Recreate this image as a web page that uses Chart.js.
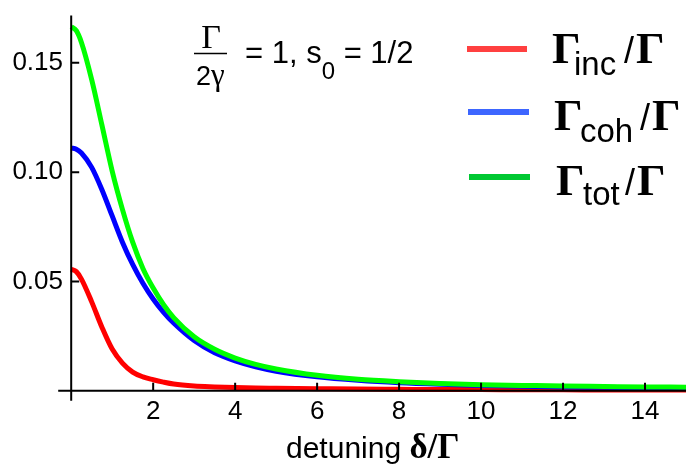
<!DOCTYPE html>
<html>
<head>
<meta charset="utf-8">
<script src="https://cdn.jsdelivr.net/npm/chart.js@4"></script>
<style>
  html, body { margin: 0; padding: 0; background: #fff; }
  canvas { display: block; }
</style>
</head>
<body>
<canvas id="c" width="686" height="470" style="width:686px;height:470px"></canvas>
<script>
// detuning δ/Γ sample points
const detuning = [0, 0.125, 0.25, 0.5, 0.75, 1, 1.25, 1.5, 1.75, 2, 2.25, 2.5, 3, 3.5, 4, 4.5, 5, 6, 7, 8, 9, 10, 11, 12, 13, 14, 15];
// scattering rates in units of Γ
const gammaInc = [0.0556, 0.0545, 0.0511, 0.0407, 0.0291, 0.0191, 0.0127, 0.0086, 0.0064, 0.0051, 0.0040, 0.0031, 0.0022, 0.0018, 0.0015, 0.0013, 0.0012, 0.0010, 0.0008, 0.0007, 0.0006, 0.0006, 0.0005, 0.0005, 0.0004, 0.0004, 0.0004];
const gammaCoh = [0.1111, 0.1105, 0.1088, 0.1022, 0.0920, 0.0800, 0.0680, 0.0578, 0.0492, 0.0420, 0.0360, 0.0310, 0.0230, 0.0174, 0.0137, 0.0110, 0.0090, 0.0064, 0.0048, 0.0037, 0.0030, 0.0025, 0.0021, 0.0018, 0.0016, 0.0014, 0.0013];
const gammaTot = [0.1665, 0.1647, 0.1593, 0.1423, 0.1215, 0.1005, 0.0830, 0.0680, 0.0560, 0.0470, 0.0395, 0.0335, 0.0247, 0.0190, 0.0150, 0.0121, 0.0100, 0.0071, 0.0053, 0.0042, 0.0034, 0.0028, 0.0025, 0.0022, 0.0020, 0.0018, 0.0017];

const xTickValues = [2, 4, 6, 8, 10, 12, 14];
const yTickValues = [0.05, 0.10, 0.15];
const yTickLabels = ['0.05', '0.10', '0.15'];

const seriesSubscripts = ['inc', 'coh', 'tot'];
const lineColors = ['#ff0000', '#0000ff', '#00ff00'];
const legendColors = ['#ff4040', '#3d66ff', '#00c832'];

const SANS = "'Liberation Sans', Arial, Helvetica, sans-serif";
const SERIF = "'Liberation Serif', 'Times New Roman', serif";

const toPoints = ys => detuning.map((d, i) => ({ x: d, y: ys[i] }));

// Mathematica-style axes crossing at the origin, tick marks pointing inward
const originAxes = {
  id: 'originAxes',
  afterDatasetsDraw(chart) {
    const { ctx, chartArea } = chart;
    const xs = chart.scales.x, ys = chart.scales.y;
    const x0 = xs.getPixelForValue(0), y0 = ys.getPixelForValue(0);
    ctx.save();
    ctx.strokeStyle = '#000';
    ctx.lineWidth = 2;
    ctx.beginPath();
    ctx.moveTo(x0 - 13, y0);
    ctx.lineTo(chartArea.right, y0);
    ctx.moveTo(x0, chartArea.top);
    ctx.lineTo(x0, y0 + 10);
    xTickValues.forEach(v => {
      const p = xs.getPixelForValue(v);
      ctx.moveTo(p, y0);
      ctx.lineTo(p, y0 - 8);
    });
    yTickValues.forEach(v => {
      const p = ys.getPixelForValue(v);
      ctx.moveTo(x0, p);
      ctx.lineTo(x0 + 8, p);
    });
    ctx.stroke();
    ctx.restore();
  }
};

// Axis title, parameter note and legend with Greek symbols and subscripts
const annotations = {
  id: 'annotations',
  afterDraw(chart) {
    const ctx = chart.ctx;
    ctx.save();
    ctx.fillStyle = '#000';
    ctx.textBaseline = 'alphabetic';
    ctx.textAlign = 'left';

    // x-axis title
    ctx.font = `30px ${SANS}`;
    const t1 = 'detuning ';
    ctx.fillText(t1, 286, 458);
    const tx = 286 + ctx.measureText(t1).width;
    ctx.font = `bold 35px ${SERIF}`;
    ctx.fillText('δ/Γ', tx, 458);

    // parameter note: Γ/2γ = 1, s0 = 1/2
    ctx.textAlign = 'center';
    ctx.font = `34px ${SERIF}`;
    ctx.fillText('Γ', 211, 48);
    ctx.lineWidth = 1.5;
    ctx.strokeStyle = '#000';
    ctx.beginPath();
    ctx.moveTo(194, 53.5);
    ctx.lineTo(227, 53.5);
    ctx.stroke();
    ctx.textAlign = 'left';
    ctx.font = `27px ${SANS}`;
    ctx.fillText('2', 196, 85);
    ctx.font = `31px ${SERIF}`;
    ctx.fillText('γ', 211, 85);
    ctx.font = `31px ${SANS}`;
    const p1 = '= 1, s';
    ctx.fillText(p1, 245, 63);
    let px = 245 + ctx.measureText(p1).width;
    ctx.font = `24px ${SANS}`;
    ctx.fillText('0', px, 79);
    px += ctx.measureText('0').width;
    ctx.font = `31px ${SANS}`;
    ctx.fillText(' = 1/2', px, 63);

    // legend
    const rows = [
      { y: 49, x1: 467, x2: 527, base: 63, sub: 75, gx: 552, sx: 574, slx: 624, g2x: 636 },
      { y: 112, x1: 468, x2: 529, base: 130, sub: 142, gx: 554, sx: 580, slx: 640, g2x: 652 },
      { y: 177, x1: 469, x2: 530, base: 195, sub: 205, gx: 556, sx: 583, slx: 625, g2x: 637 }
    ];
    rows.forEach((r, i) => {
      ctx.strokeStyle = legendColors[i];
      ctx.lineWidth = 6;
      ctx.beginPath();
      ctx.moveTo(r.x1, r.y);
      ctx.lineTo(r.x2, r.y);
      ctx.stroke();
      ctx.fillStyle = '#000';
      ctx.font = `bold 45px ${SERIF}`;
      ctx.fillText('Γ', r.gx, r.base);
      ctx.font = `33px ${SANS}`;
      ctx.fillText(seriesSubscripts[i], r.sx, r.sub);
      ctx.font = `36px ${SANS}`;
      ctx.fillText('/', r.slx, r.base);
      ctx.font = `bold 45px ${SERIF}`;
      ctx.fillText('Γ', r.g2x, r.base);
    });
    ctx.restore();
  }
};

const tickFont = { family: SANS, size: 26 };

new Chart(document.getElementById('c'), {
  type: 'line',
  data: {
    datasets: [
      { label: 'Γinc/Γ', data: toPoints(gammaInc), borderColor: lineColors[0], order: 2 },
      { label: 'Γcoh/Γ', data: toPoints(gammaCoh), borderColor: lineColors[1], order: 1 },
      { label: 'Γtot/Γ', data: toPoints(gammaTot), borderColor: lineColors[2], order: 0 }
    ]
  },
  options: {
    responsive: false,
    devicePixelRatio: 1,
    animation: false,
    layout: { padding: { top: 8, left: 0, right: 0, bottom: 0 } },
    elements: {
      line: { borderWidth: 5, cubicInterpolationMode: 'monotone', fill: false, borderCapStyle: 'butt' },
      point: { radius: 0 }
    },
    plugins: { legend: { display: false }, tooltip: { enabled: false } },
    scales: {
      x: {
        type: 'linear',
        min: -0.2,
        max: 15,
        grid: { display: false, drawTicks: false, tickLength: 0 },
        border: { display: false },
        afterFit(s) { s.height = 69.3; },
        afterBuildTicks(s) { s.ticks = xTickValues.map(v => ({ value: v })); },
        ticks: { font: tickFont, color: '#000', padding: -4, maxRotation: 0, autoSkip: false }
      },
      y: {
        type: 'linear',
        min: -0.0045,
        max: 0.1716,
        grid: { display: false, drawTicks: false, tickLength: 0 },
        border: { display: false },
        afterFit(s) { s.width = 63; },
        afterBuildTicks(s) { s.ticks = yTickValues.map(v => ({ value: v })); },
        ticks: {
          font: tickFont,
          color: '#000',
          padding: 0,
          callback: (v, i) => yTickLabels[i]
        }
      }
    }
  },
  plugins: [originAxes, annotations]
});
</script>
</body>
</html>
